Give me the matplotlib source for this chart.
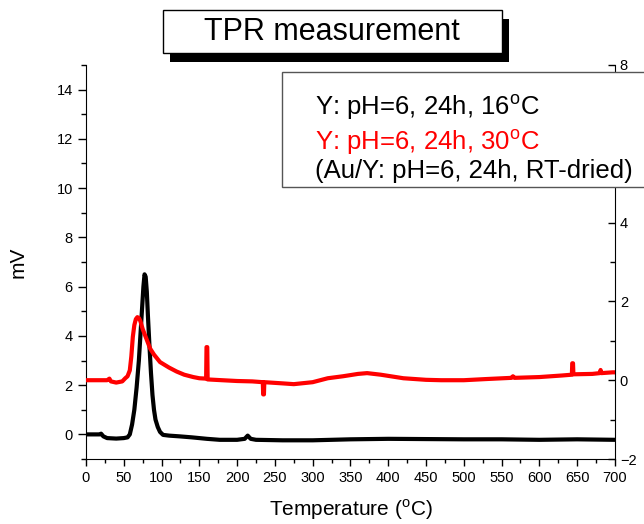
import matplotlib
matplotlib.use("Agg")
import matplotlib.pyplot as plt
from matplotlib.patches import Rectangle
from matplotlib.ticker import MultipleLocator

plt.rcParams['font.family'] = ['Liberation Sans', 'DejaVu Sans']
plt.rcParams['mathtext.fontset'] = 'custom'
plt.rcParams['mathtext.rm'] = 'Liberation Sans'

# black trace (Y: pH=6, 24h, 16C) - left axis, mV
t_black = [0, 18, 20, 23, 28, 40, 50, 55, 58, 61, 64, 67, 70, 72, 74, 76, 77.5, 79,
           80.5, 82, 84, 86, 88, 90, 92, 95, 98, 102, 110, 124, 140, 160, 177, 200,
           210, 214, 218, 225, 260, 300, 350, 400, 450, 500, 550, 600, 650, 700]
v_black = [0.0, 0.0, 0.03, -0.08, -0.15, -0.17, -0.15, -0.12, 0.0, 0.4, 1.0, 1.9, 3.0,
           4.0, 5.0, 6.0, 6.5, 6.4, 5.8, 4.8, 3.6, 2.5, 1.6, 1.0, 0.6, 0.3, 0.1, -0.02,
           -0.05, -0.08, -0.12, -0.18, -0.22, -0.22, -0.18, -0.05, -0.18, -0.22, -0.24,
           -0.24, -0.2, -0.18, -0.19, -0.2, -0.2, -0.22, -0.2, -0.22]

# red trace (Y: pH=6, 24h, 30C) - right axis
t_red = [0, 28, 31, 33, 40, 48, 52, 55, 58, 60, 62, 64, 66, 68, 70, 72, 75, 80, 85, 90,
         98, 110, 120, 130, 142, 150, 159, 159.5, 160.5, 161, 180, 200, 220, 234, 234.5,
         235.5, 236, 260, 275, 300, 320, 340, 360, 372, 390, 420, 450, 470, 500, 530,
         563, 565, 567, 600, 630, 643, 643.5, 644.5, 645, 670, 680, 681, 682, 697, 700]
v_red = [0.0, 0.0, 0.04, -0.03, -0.06, -0.03, 0.05, 0.1, 0.25, 0.6, 1.1, 1.4, 1.55, 1.6,
         1.58, 1.5, 1.3, 1.05, 0.8, 0.65, 0.46, 0.32, 0.22, 0.14, 0.08, 0.05, 0.04, 0.84,
         0.84, 0.02, 0.0, -0.02, -0.03, -0.05, -0.36, -0.36, -0.05, -0.08, -0.1, -0.05,
         0.05, 0.1, 0.16, 0.18, 0.14, 0.05, 0.01, 0.0, 0.0, 0.03, 0.06, 0.1, 0.06, 0.08,
         0.12, 0.14, 0.43, 0.43, 0.15, 0.16, 0.18, 0.26, 0.18, 0.2, 0.2]

legend_lines = [r'Y: pH=6, 24h, 16$^{\mathrm{o}}$C',
                r'Y: pH=6, 24h, 30$^{\mathrm{o}}$C',
                '(Au/Y: pH=6, 24h, RT-dried)']
legend_colors = ['black', 'red', 'black']

fig = plt.figure(figsize=(6.44, 5.24), dpi=100)
ax = fig.add_axes([0.1335, 0.124, 0.8214, 0.752])
ax.plot(t_black, v_black, color='black', lw=3, solid_joinstyle='round')
ax.set_xlim(0, 700)
ax.set_ylim(-1, 15)
ax.xaxis.set_major_locator(MultipleLocator(50))
ax.xaxis.set_minor_locator(MultipleLocator(25))
ax.yaxis.set_major_locator(MultipleLocator(2))
ax.yaxis.set_minor_locator(MultipleLocator(1))
ax.tick_params(which='both', direction='out', labelsize=10.5, width=1)
ax.tick_params(axis='y', which='major', length=6)
ax.tick_params(axis='y', which='minor', length=3.5)
ax.tick_params(axis='x', which='major', length=5)
ax.tick_params(axis='x', which='minor', length=3)
ax.spines['top'].set_visible(False)
ax.spines['right'].set_visible(False)
ax.set_xlabel(r'Temperature ($^{\mathrm{o}}$C)', fontsize=15, labelpad=9)
ax.set_ylabel('mV', fontsize=15)
ax.yaxis.set_label_coords(-0.11, 0.5)

ax2 = ax.twinx()
ax2.plot(t_red, v_red, color='red', lw=3, solid_joinstyle='round')
ax2.set_ylim(-2, 8)
ax2.yaxis.set_major_locator(MultipleLocator(2))
ax2.yaxis.set_minor_locator(MultipleLocator(1))
ax2.tick_params(which='both', direction='in', labelsize=10.5, width=1)
ax2.tick_params(which='major', length=5)
ax2.tick_params(which='minor', length=3.5)
for s in ['top', 'left', 'bottom']:
    ax2.spines[s].set_visible(False)

# title box with shadow
fig.patches.append(Rectangle((0.2531 + 0.0109, 0.8989 - 0.0172), 0.5264, 0.082,
                             transform=fig.transFigure, facecolor='black',
                             edgecolor='none', zorder=2))
fig.patches.append(Rectangle((0.2531, 0.8989), 0.5264, 0.082,
                             transform=fig.transFigure, facecolor='white',
                             edgecolor='black', lw=1, zorder=3))
fig.text(0.5155, 0.939, 'TPR measurement', fontsize=22, ha='center', va='center', zorder=4)

# legend box
fig.patches.append(Rectangle((0.4379, 0.6431), 0.6, 0.2195,
                             transform=fig.transFigure, facecolor='white',
                             edgecolor='#555555', lw=1, zorder=3))
for txt, c, y in zip(legend_lines, legend_colors, [0.7805, 0.7137, 0.6603]):
    fig.text(0.489, y, txt, color=c, fontsize=18.5, va='baseline', zorder=4)

fig.savefig('out.png', dpi=100)
